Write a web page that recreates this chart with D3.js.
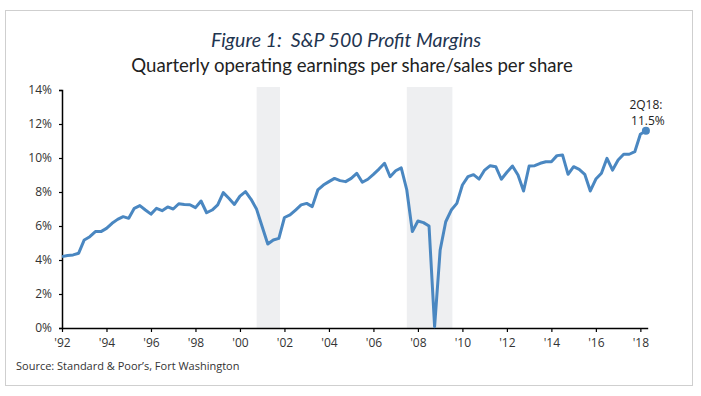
<!DOCTYPE html>
<html>
<head>
<meta charset="utf-8">
<script src="https://cdn.jsdelivr.net/npm/d3@7"></script>
<style>
  html, body { margin: 0; padding: 0; background: #fff; }
  svg { display: block; }
  text { white-space: pre; }
</style>
</head>
<body>
<svg id="chart" width="701" height="396"></svg>
<script>
// ---- data ----
const startYear = 1992;
const margins = [
  4.2, 4.27, 4.3, 4.4,      // 1992
  5.18, 5.37, 5.67, 5.67,   // 1993
  5.86, 6.16, 6.39, 6.55,   // 1994
  6.45, 7.04, 7.2, 6.94,    // 1995
  6.7, 7.04, 6.9, 7.12,     // 1996
  7.0, 7.31, 7.27, 7.25,    // 1997
  7.08, 7.47, 6.78, 6.94,   // 1998
  7.24, 7.96, 7.63, 7.27,   // 1999
  7.76, 8.02, 7.57, 6.98,   // 2000
  5.96, 4.94, 5.18, 5.27,   // 2001
  6.5, 6.65, 6.94, 7.24,    // 2002
  7.33, 7.14, 8.12, 8.41,   // 2003
  8.61, 8.8, 8.67, 8.61,    // 2004
  8.8, 9.1, 8.57, 8.75,     // 2005
  9.04, 9.35, 9.69, 8.9,    // 2006
  9.25, 9.42, 8.12, 5.67,   // 2007
  6.29, 6.2, 6.0, 0.08,     // 2008
  4.59, 6.25, 6.94, 7.33,   // 2009
  8.41, 8.9, 9.02, 8.76,    // 2010
  9.29, 9.55, 9.49, 8.75,   // 2011
  9.16, 9.53, 9.0, 8.06,    // 2012
  9.53, 9.55, 9.69, 9.78,   // 2013
  9.78, 10.14, 10.18, 9.04, // 2014
  9.49, 9.33, 9.04, 8.06,   // 2015
  8.76, 9.1, 9.98, 9.29,    // 2016
  9.88, 10.22, 10.22, 10.37,// 2017
  11.4, 11.6                // 2018
];
const recessions = [[2000.75, 2001.8], [2007.5, 2009.55]];
const yTicks = [0, 2, 4, 6, 8, 10, 12, 14];
const xTickYears = [1992, 1994, 1996, 1998, 2000, 2002, 2004, 2006, 2008, 2010, 2012, 2014, 2016, 2018];
const lastLabel = ["2Q18:", "11.5%"];
const titleText = "Figure 1:  S&P 500 Profit Margins";
const subtitleText = "Quarterly operating earnings per share/sales per share";
const sourceText = "Source: Standard & Poor\u2019s, Fort Washington";

// ---- chart ----
const svg = d3.select("#chart");
const lineColor = "#4a87c1";
const font = "'Open Sans', 'Noto Sans', sans-serif";

// frame
svg.append("rect").attr("x", 5.5).attr("y", 10.5).attr("width", 687).attr("height", 375)
  .attr("fill", "none").attr("stroke", "#cfcfcf").attr("stroke-width", 1);

const x = d3.scaleLinear().domain([1992, 2018.33]).range([62, 647.7]);
const y = d3.scaleLinear().domain([0, 14]).range([328, 90]);

// recession bands
svg.append("g").selectAll("rect").data(recessions).join("rect")
  .attr("x", d => x(d[0])).attr("width", d => x(d[1]) - x(d[0]))
  .attr("y", 87).attr("height", y(0) - 87)
  .attr("fill", "#eeeff1");

// titles
svg.append("text").attr("x", 346).attr("y", 47).attr("text-anchor", "middle")
  .attr("font-family", "Lato, 'Open Sans', sans-serif").attr("font-style", "italic")
  .attr("font-size", 19.5).attr("fill", "#1f3550").attr("xml:space", "preserve").text(titleText);
svg.append("text").attr("x", 352).attr("y", 72).attr("text-anchor", "middle")
  .attr("font-family", "Lato, 'Open Sans', sans-serif")
  .attr("font-size", 18.6).attr("fill", "#222").text(subtitleText);

// y axis
const yAxis = d3.axisLeft(y).tickValues(yTicks).tickSize(3).tickPadding(7)
  .tickFormat(d => d + "%");
const gy = svg.append("g").attr("transform", "translate(62,0)").call(yAxis);
gy.select(".domain").attr("stroke", "#000").attr("stroke-width", 1.5);
gy.selectAll(".tick line").attr("stroke", "#000").attr("stroke-width", 1.2);
gy.selectAll("text").attr("font-family", font).attr("font-size", 12).attr("fill", "#333");

// x axis
const xAxis = d3.axisBottom(x).tickValues(xTickYears).tickSize(4).tickPadding(6)
  .tickSizeOuter(0)
  .tickFormat(d => "'" + String(d).slice(2));
const gx = svg.append("g").attr("transform", "translate(0,328)").call(xAxis);
gx.select(".domain").attr("stroke", "#000").attr("stroke-width", 1.5);
gx.selectAll(".tick line").attr("stroke", "#000").attr("stroke-width", 1.2);
gx.selectAll("text").attr("font-family", font).attr("font-size", 12).attr("fill", "#333");

// line
const pts = margins.map((v, i) => ({ t: startYear + i / 4, v }));
svg.append("path").datum(pts)
  .attr("fill", "none").attr("stroke", lineColor).attr("stroke-width", 3)
  .attr("stroke-linejoin", "round")
  .attr("d", d3.line().x(d => x(d.t)).y(d => y(d.v)));

const last = pts[pts.length - 1];
svg.append("circle").attr("cx", x(last.t)).attr("cy", y(last.v)).attr("r", 4).attr("fill", lineColor);

svg.append("text").attr("font-family", font).attr("font-size", 12).attr("fill", "#222")
  .attr("text-anchor", "middle").attr("x", x(last.t)).attr("y", 109).text(lastLabel[0]);
svg.append("text").attr("font-family", font).attr("font-size", 12).attr("fill", "#222")
  .attr("text-anchor", "middle").attr("x", x(last.t) + 2).attr("y", 125).text(lastLabel[1]);

// source
svg.append("text").attr("x", 16).attr("y", 370).attr("font-family", font)
  .attr("font-size", 11).attr("fill", "#333").text(sourceText);
</script>
</body>
</html>
